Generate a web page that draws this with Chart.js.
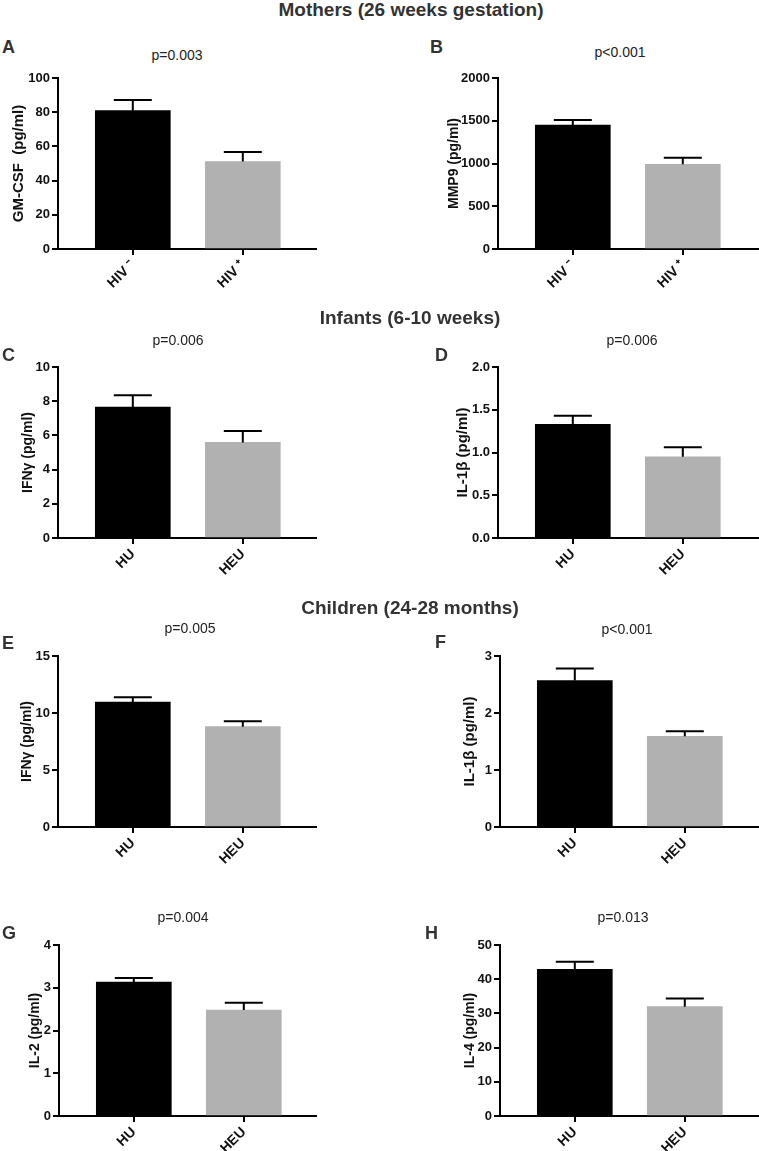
<!DOCTYPE html>
<html>
<head>
<meta charset="utf-8">
<script src="https://cdn.jsdelivr.net/npm/chart.js@4.4.1/dist/chart.umd.min.js"></script>
<style>
  body { margin: 0; background: #fff; width: 759px; height: 1151px; position: relative; overflow: hidden;
         font-family: Arial, "Liberation Sans", sans-serif; }
  canvas { position: absolute; }
  .txt { position: absolute; white-space: nowrap; line-height: 1; }
  .sec { font-weight: bold; font-size: 19px; color: #333; transform: translate(-50%, -50%); }
  .let { font-weight: bold; font-size: 18px; color: #333; transform: translateY(-50%); }
  .pv { font-size: 14px; color: #222; transform: translate(-50%, -50%); }
</style>
</head>
<body>
<script>
// groups
const groupsMothers = ['HIV ⁻', 'HIV ⁺'];
const groupsKids = ['HU', 'HEU'];

// mean and SEM
const gmcsfMean = [80.9, 51.1];
const gmcsfSem = [6.2, 5.6];
const gmcsfTicks = ['0', '20', '40', '60', '80', '100'];

const mmp9Mean = [1450, 990];
const mmp9Sem = [59, 78];
const mmp9Ticks = ['0', '500', '1000', '1500', '2000'];

const ifngInfMean = [7.66, 5.59];
const ifngInfSem = [0.69, 0.67];
const ifngInfTicks = ['0', '2', '4', '6', '8', '10'];

const il1bInfMean = [1.33, 0.95];
const il1bInfSem = [0.10, 0.11];
const il1bInfTicks = ['0.0', '0.5', '1.0', '1.5', '2.0'];

const ifngChMean = [10.96, 8.8];
const ifngChSem = [0.42, 0.47];
const ifngChTicks = ['0', '5', '10', '15'];

const il1bChMean = [2.57, 1.59];
const il1bChSem = [0.21, 0.09];
const il1bChTicks = ['0', '1', '2', '3'];

const il2Mean = [3.13, 2.48];
const il2Sem = [0.10, 0.17];
const il2Ticks = ['0', '1', '2', '3', '4'];

const il4Mean = [42.9, 31.96];
const il4Sem = [2.2, 2.4];
const il4Ticks = ['0', '10', '20', '30', '40', '50'];

const pValues = ['p=0.003', 'p<0.001', 'p=0.006', 'p=0.006', 'p=0.005', 'p<0.001', 'p=0.004', 'p=0.013'];

const FONT = 'Arial, "Liberation Sans", sans-serif';

const panels = [
  { letter: 'A', groups: groupsMothers, mean: gmcsfMean, sem: gmcsfSem, ticks: gmcsfTicks, title: 'GM-CSF  (pg/ml)', ts: 15,
    axisX: 58, topY: 78, zeroY: 249, titleX: 19, col: 0, right: 317, lx: 2, ly: 47, px: 177, py: 55 },
  { letter: 'B', groups: groupsMothers, mean: mmp9Mean, sem: mmp9Sem, ticks: mmp9Ticks, title: 'MMP9 (pg/ml)', ts: 14,
    axisX: 498, topY: 78, zeroY: 249, titleX: 454, col: 380, right: 760, lx: 430, ly: 47, px: 620, py: 52 },
  { letter: 'C', groups: groupsKids, mean: ifngInfMean, sem: ifngInfSem, ticks: ifngInfTicks, title: 'IFNγ (pg/ml)', ts: 14,
    axisX: 58, topY: 367, zeroY: 538, titleX: 28, col: 0, right: 317, lx: 2, ly: 355, px: 178, py: 340 },
  { letter: 'D', groups: groupsKids, mean: il1bInfMean, sem: il1bInfSem, ticks: il1bInfTicks, title: 'IL-1β (pg/ml)', ts: 15,
    axisX: 498, topY: 367, zeroY: 538, titleX: 463, col: 380, right: 760, lx: 435, ly: 355, px: 632, py: 340 },
  { letter: 'E', groups: groupsKids, mean: ifngChMean, sem: ifngChSem, ticks: ifngChTicks, title: 'IFNγ (pg/ml)', ts: 14,
    axisX: 58, topY: 656, zeroY: 827, titleX: 27, col: 0, right: 317, lx: 2, ly: 643, px: 190, py: 628 },
  { letter: 'F', groups: groupsKids, mean: il1bChMean, sem: il1bChSem, ticks: il1bChTicks, title: 'IL-1β (pg/ml)', ts: 15,
    axisX: 500, topY: 656, zeroY: 827, titleX: 470, col: 380, right: 760, lx: 435, ly: 642, px: 627, py: 629 },
  { letter: 'G', groups: groupsKids, mean: il2Mean, sem: il2Sem, ticks: il2Ticks, title: 'IL-2 (pg/ml)', ts: 14,
    axisX: 59, topY: 945, zeroY: 1116, titleX: 35, col: 0, right: 317, lx: 2, ly: 933, px: 183, py: 917 },
  { letter: 'H', groups: groupsKids, mean: il4Mean, sem: il4Sem, ticks: il4Ticks, title: 'IL-4 (pg/ml)', ts: 14,
    axisX: 500, topY: 945, zeroY: 1116, titleX: 470, col: 380, right: 760, lx: 425, ly: 933, px: 623, py: 917 }
];

const sections = [
  ['Mothers (26 weeks gestation)', 411, 9],
  ['Infants (6-10 weeks)', 410, 317],
  ['Children (24-28 months)', 410, 607]
];

function addText(text, cls, x, y) {
  const d = document.createElement('div');
  d.className = 'txt ' + cls;
  d.textContent = text;
  d.style.left = x + 'px';
  d.style.top = y + 'px';
  document.body.appendChild(d);
}

// whiskers (upper SEM only) drawn from the y scale
const errorBars = {
  id: 'errorBars',
  afterDatasetsDraw(chart, args, opts) {
    const ctx = chart.ctx;
    const yScale = chart.scales.y;
    const ds = chart.data.datasets[0];
    ctx.save();
    ctx.strokeStyle = '#000';
    ctx.lineWidth = 2;
    chart.getDatasetMeta(0).data.forEach((bar, i) => {
      const yTop = yScale.getPixelForValue(ds.data[i].y + opts.sem[i]);
      ctx.beginPath();
      ctx.moveTo(bar.x, bar.y);
      ctx.lineTo(bar.x, yTop);
      ctx.moveTo(bar.x - 19, yTop);
      ctx.lineTo(bar.x + 19, yTop);
      ctx.stroke();
    });
    ctx.restore();
  }
};

const BAR_STEP = 110; // px between the two bar centres
const X_MIN = -0.68;

panels.forEach((pn, idx) => {
  const titleOff = pn.ts * 1.2 / 2;
  const canvasTop = pn.topY - 12;
  const canvasH = pn.zeroY - canvasTop + 60;
  const canvasW = pn.right - pn.col;
  const cv = document.createElement('canvas');
  cv.width = canvasW;
  cv.height = canvasH;
  cv.style.left = pn.col + 'px';
  cv.style.top = canvasTop + 'px';
  document.body.appendChild(cv);

  const yWidth = pn.axisX - (pn.titleX - titleOff);
  const padLeft = pn.titleX - titleOff - pn.col;
  const xMax = X_MIN + (pn.right - pn.axisX) / BAR_STEP;
  const tickVals = pn.ticks.map(Number);

  new Chart(cv, {
    type: 'bar',
    data: {
      datasets: [{
        data: pn.mean.map((v, i) => ({ x: i, y: v })),
        backgroundColor: ['#000000', '#b1b1b1'],
        borderWidth: 0,
        barThickness: 75
      }]
    },
    plugins: [errorBars],
    options: {
      responsive: false,
      animation: false,
      devicePixelRatio: 1,
      layout: { padding: { left: padLeft, top: 12, right: 0, bottom: 0 } },
      plugins: {
        legend: { display: false },
        tooltip: { enabled: false },
        errorBars: { sem: pn.sem }
      },
      scales: {
        x: {
          type: 'linear',
          min: X_MIN,
          max: xMax,
          offset: false,
          afterBuildTicks: (s) => { s.ticks = pn.groups.map((g, i) => ({ value: i })); },
          afterFit: (s) => { s.height = 60; },
          grid: { offset: false, drawOnChartArea: false, drawTicks: true, tickLength: 6, color: '#000', lineWidth: 2 },
          border: { display: true, color: '#000', width: 2 },
          ticks: {
            autoSkip: false, minRotation: 45, maxRotation: 45, padding: 2,
            color: '#111', font: { family: FONT, size: 14, weight: 'bold' },
            callback: (v) => pn.groups[v]
          }
        },
        y: {
          min: 0,
          max: tickVals[tickVals.length - 1],
          afterBuildTicks: (s) => { s.ticks = tickVals.map(v => ({ value: v })); },
          afterFit: (s) => { s.width = yWidth; },
          grid: { drawOnChartArea: false, drawTicks: true, tickLength: 6, color: '#000', lineWidth: 2 },
          border: { display: true, color: '#000', width: 2 },
          ticks: {
            padding: 2, color: '#111', font: { family: FONT, size: 13, weight: 'bold' },
            callback: (v) => pn.ticks[tickVals.indexOf(v)]
          },
          title: {
            display: true, text: pn.title, padding: 0, color: '#111',
            font: { family: FONT, size: pn.ts, weight: 'bold' }
          }
        }
      }
    }
  });

  addText(pn.letter, 'let', pn.lx, pn.ly);
  addText(pValues[idx], 'pv', pn.px, pn.py);
});

sections.forEach(s => addText(s[0], 'sec', s[1], s[2]));
</script>
</body>
</html>
